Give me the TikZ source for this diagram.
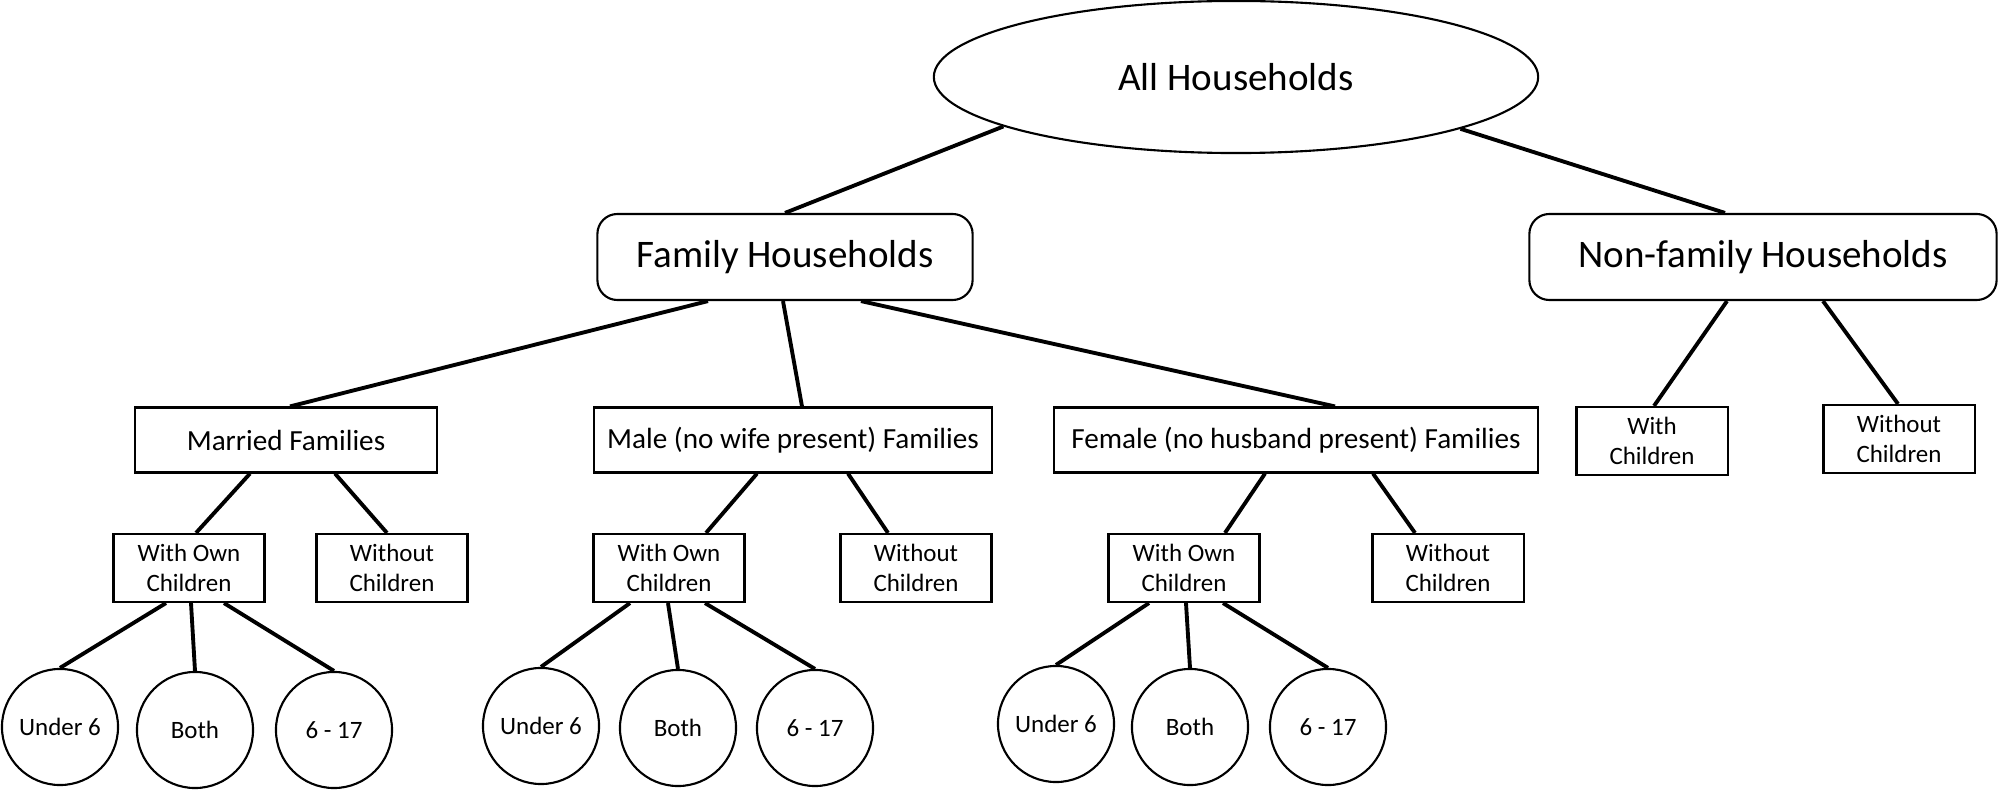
\documentclass[tikz,border=0pt]{standalone}
\usepackage{fontspec}
\setmainfont{Carlito}
\usetikzlibrary{shapes.geometric,calc}
\begin{document}
\begin{tikzpicture}[x=0.01cm,y=-0.01cm,
  conn/.style={line width=1.1pt},
  bigfont/.style={font=\fontsize{11.1}{13}\selectfont},
  midfont/.style={font=\fontsize{8.3}{10}\selectfont},
  smallfont/.style={font=\fontsize{7.1}{8.5}\selectfont},
  rbox/.style={draw, line width=0.6pt, rounded corners=0.2cm, inner sep=0pt,
    minimum width=3.75cm, minimum height=0.86cm, bigfont},
  mbox/.style={draw, line width=0.6pt, inner sep=0pt, minimum height=0.65cm, midfont},
  sbox/.style={draw, line width=0.6pt, inner sep=0pt, minimum width=1.51cm,
    minimum height=0.68cm, align=center, smallfont},
  circ/.style={draw, circle, line width=0.6pt, inner sep=0pt, minimum size=1.16cm, smallfont}
]
\useasboundingbox (0,0) rectangle (1999,791);

\node[ellipse, draw, line width=0.6pt, inner sep=0pt, minimum width=6.04cm,
      minimum height=1.52cm, bigfont] (all) at (1236,77) {All Households};
\node[rbox] (fam) at (785,257) {Family Households};
\node[rbox, minimum width=4.67cm] (non) at (1763,257) {Non-family Households};

\node[mbox, minimum width=3.02cm] (mar) at (286,440) {Married Families};
\node[mbox, minimum width=3.98cm] (male) at (793,440) {Male (no wife present) Families};
\node[mbox, minimum width=4.84cm] (fem) at (1296,440) {Female (no husband present) Families};

\node[sbox] (nwc) at (1652,441) {With\\Children};
\node[sbox] (nwo) at (1899,439) {Without\\Children};

\node[sbox] (mwo) at (189,568) {With Own\\Children};
\node[sbox] (mwt) at (392,568) {Without\\Children};
\node[sbox] (lwo) at (669,568) {With Own\\Children};
\node[sbox] (lwt) at (916,568) {Without\\Children};
\node[sbox] (fwo) at (1184,568) {With Own\\Children};
\node[sbox] (fwt) at (1448,568) {Without\\Children};

\node[circ] (m1) at (60,727) {Under 6};
\node[circ] (m2) at (195,730) {Both};
\node[circ] (m3) at (334,730) {6 - 17};
\node[circ] (l1) at (541,726) {Under 6};
\node[circ] (l2) at (678,728) {Both};
\node[circ] (l3) at (815,728) {6 - 17};
\node[circ] (f1) at (1056,724) {Under 6};
\node[circ] (f2) at (1190,727) {Both};
\node[circ] (f3) at (1328,727) {6 - 17};

% connectors
\draw[conn] (all.192) -- (fam.north);
\draw[conn] (all.347) -- ($(non.north)+(-38,0)$);

\draw[conn] ($(fam.south)+(-77,0)$) -- ($(mar.north)+(4,0)$);
\draw[conn] ($(fam.south)+(-2,0)$) -- ($(male.north)+(9,0)$);
\draw[conn] ($(fam.south)+(76,0)$) -- ($(fem.north)+(39,0)$);

\draw[conn] ($(non.south)+(-36,0)$) -- ($(nwc.north)+(2,0)$);
\draw[conn] ($(non.south)+(60,0)$) -- ($(nwo.north)+(-1,0)$);

\draw[conn] ($(mar.south)+(-36,0)$) -- ($(mwo.north)+(7,0)$);
\draw[conn] ($(mar.south)+(49,0)$) -- ($(mwt.north)+(-5,0)$);
\draw[conn] ($(male.south)+(-36,0)$) -- ($(lwo.north)+(37,0)$);
\draw[conn] ($(male.south)+(55,0)$) -- ($(lwt.north)+(-28,0)$);
\draw[conn] ($(fem.south)+(-31,0)$) -- ($(fwo.north)+(41,0)$);
\draw[conn] ($(fem.south)+(77,0)$) -- ($(fwt.north)+(-33,0)$);

\draw[conn] ($(mwo.south)+(-23,0)$) -- (m1.north);
\draw[conn] ($(mwo.south)+(2,0)$) -- (m2.north);
\draw[conn] ($(mwo.south)+(35,0)$) -- (m3.north);
\draw[conn] ($(lwo.south)+(-39,0)$) -- (l1.north);
\draw[conn] ($(lwo.south)+(-1,0)$) -- (l2.north);
\draw[conn] ($(lwo.south)+(36,0)$) -- (l3.north);
\draw[conn] ($(fwo.south)+(-35,0)$) -- (f1.north);
\draw[conn] ($(fwo.south)+(2,0)$) -- (f2.north);
\draw[conn] ($(fwo.south)+(39,0)$) -- (f3.north);
\end{tikzpicture}
\end{document}
